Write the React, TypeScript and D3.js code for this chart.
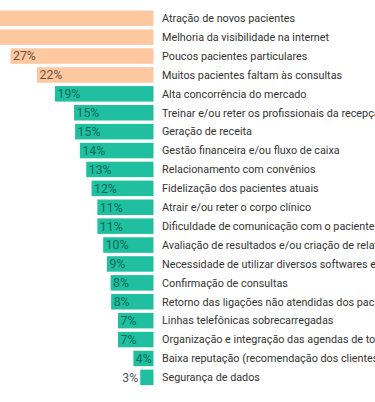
import React from "react";
import * as d3 from "d3";

const categories = [
  "Atração de novos pacientes",
  "Melhoria da visibilidade na internet",
  "Poucos pacientes particulares",
  "Muitos pacientes faltam às consultas",
  "Alta concorrência do mercado",
  "Treinar e/ou reter os profissionais da recepção",
  "Geração de receita",
  "Gestão financeira e/ou fluxo de caixa",
  "Relacionamento com convênios",
  "Fidelização dos pacientes atuais",
  "Atrair e/ou reter o corpo clínico",
  "Dificuldade de comunicação com o paciente",
  "Avaliação de resultados e/ou criação de relatórios",
  "Necessidade de utilizar diversos softwares e sistemas",
  "Confirmação de consultas",
  "Retorno das ligações não atendidas dos pacientes",
  "Linhas telefônicas sobrecarregadas",
  "Organização e integração das agendas de todos os profissionais",
  "Baixa reputação (recomendação dos clientes)",
  "Segurança de dados",
];

const values = [40, 36, 27, 22, 18.6, 15, 14.8, 13.9, 12.7, 11.7, 10.6, 10.6, 9.5, 8.8, 8.1, 8.0, 6.7, 6.7, 3.8, 2.5];
const groups = ["top", "top", "top", "top", "rest", "rest", "rest", "rest", "rest", "rest", "rest", "rest", "rest", "rest", "rest", "rest", "rest", "rest", "rest", "rest"];

const W = 375;
const H = 402;
const barRight = 153.5;
const fillColor: Record<string, string> = { top: "#fdc8a0", rest: "#1fbf9f" };
const textColor: Record<string, string> = { top: "#6b5442", rest: "#0b6d5a" };

export default function App() {
  const x = d3.scaleLinear().domain([0, 27]).range([0, 143]);
  const y = d3
    .scaleBand<string>()
    .domain(categories)
    .range([10.5, 385.1])
    .paddingInner(0.18)
    .paddingOuter(0);
  const font = "Roboto, 'Noto Sans', sans-serif";

  return (
    <svg
      width={W}
      height={H}
      style={{ position: "absolute", left: 0, top: 0, background: "#fff" }}
      fontFamily={font}
    >
      {categories.map((c, i) => {
        const v = values[i];
        const w = x(v);
        const y0 = y(c)!;
        const bh = y.bandwidth();
        const cy = y0 + bh / 2;
        const label = `${Math.round(v)}%`;
        const inside = w > 16;
        return (
          <g key={c}>
            <rect x={barRight - w} y={y0} width={w} height={bh} fill={fillColor[groups[i]]} />
            <text
              x={inside ? barRight - w + 2.5 : barRight - w - 2}
              y={cy}
              dy="0.36em"
              fontSize={12.3}
              textAnchor={inside ? "start" : "end"}
              fill={inside ? textColor[groups[i]] : "#555"}
            >
              {label}
            </text>
            <text x={162} y={cy} dy="0.35em" fontSize={10.8} fill="#333">
              {c}
            </text>
          </g>
        );
      })}
    </svg>
  );
}
